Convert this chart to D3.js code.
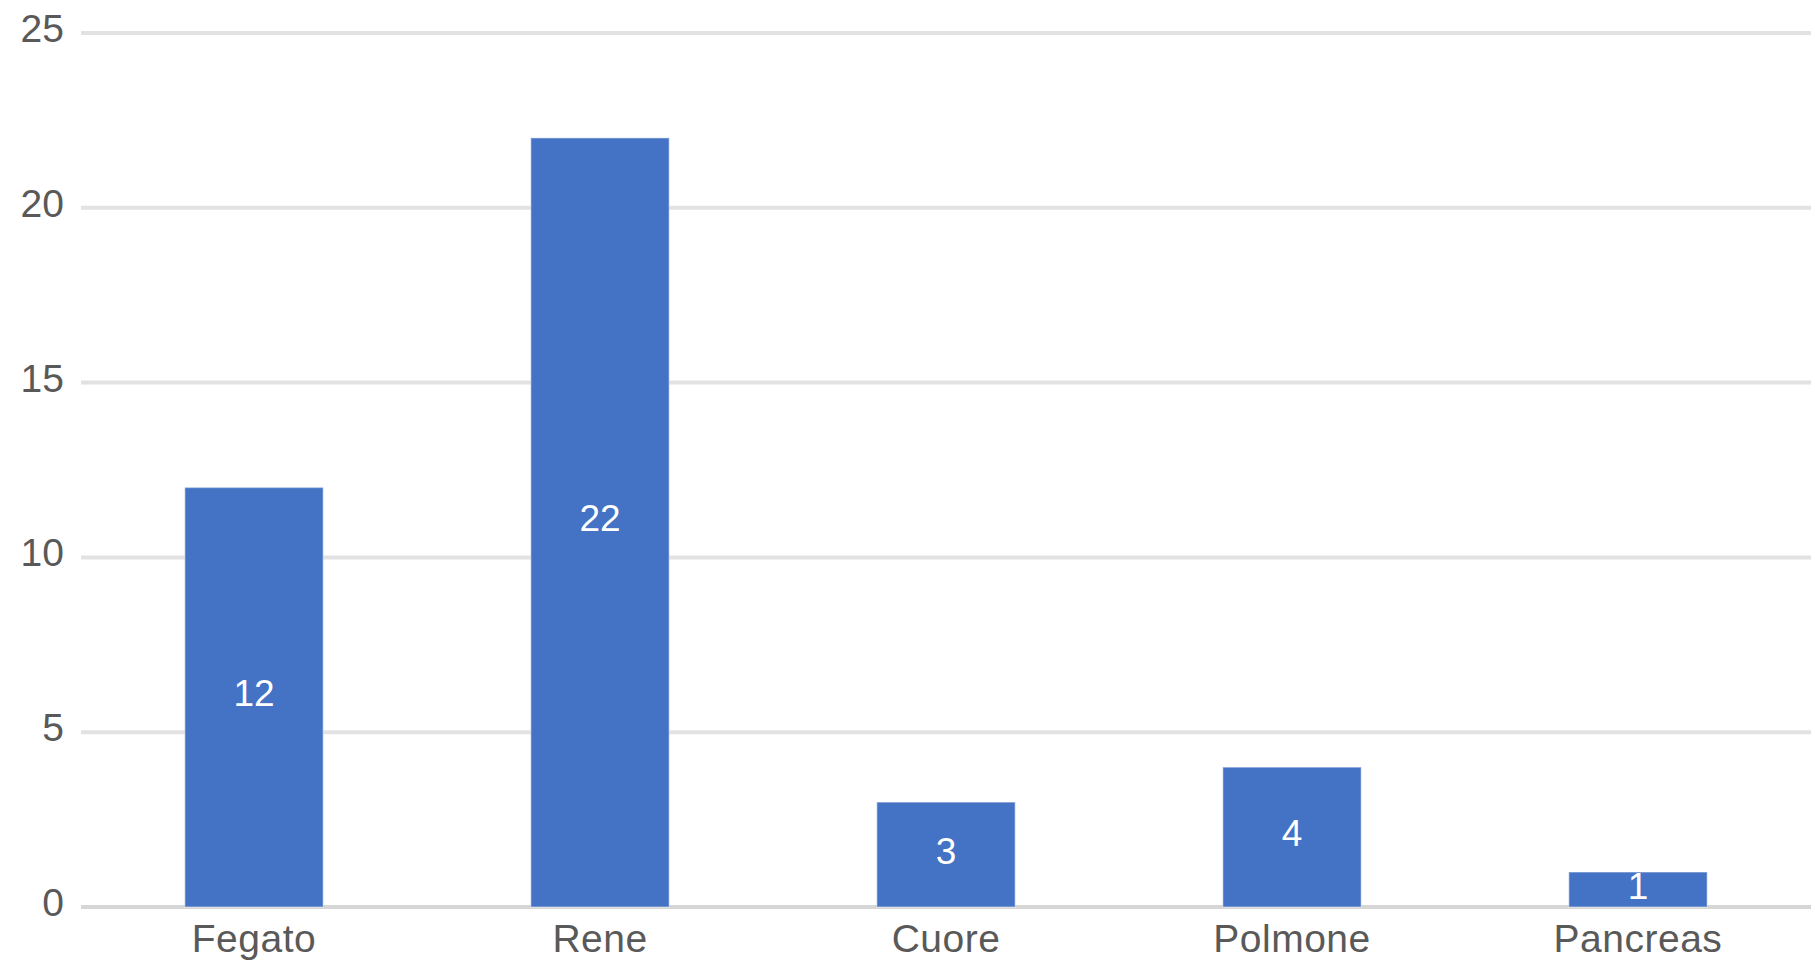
<!DOCTYPE html>
<html>
<head>
<meta charset="utf-8">
<script src="https://cdn.jsdelivr.net/npm/d3@7"></script>
<style>
  html, body { margin: 0; padding: 0; background: #fff; }
  svg { display: block; }
</style>
</head>
<body>
<svg id="chart"></svg>
<script>
const categories = ["Fegato", "Rene", "Cuore", "Polmone", "Pancreas"];
const values = [12, 22, 3, 4, 1];
const yTicks = [0, 5, 10, 15, 20, 25];

const width = 1815, height = 962;
const margin = { top: 33, right: 4, bottom: 55, left: 81 };

const svg = d3.select("#chart")
    .attr("width", width)
    .attr("height", height)
    .style("font-family", "'Liberation Sans', Arial, sans-serif");

const x = d3.scaleBand()
    .domain(categories)
    .range([margin.left, width - margin.right])
    .paddingInner(0.6)
    .paddingOuter(0.3);

const y = d3.scaleLinear()
    .domain([0, 25])
    .range([height - margin.bottom, margin.top]);

// gridlines
svg.append("g")
    .selectAll("line")
    .data(yTicks)
    .join("line")
    .attr("x1", margin.left)
    .attr("x2", width - margin.right)
    .attr("y1", d => y(d))
    .attr("y2", d => y(d))
    .attr("stroke", d => d === 0 ? "#d6d6d6" : "#e2e2e2")
    .attr("stroke-width", 4);

// y tick labels
svg.append("g")
    .selectAll("text")
    .data(yTicks)
    .join("text")
    .attr("x", 64)
    .attr("y", d => y(d) + 9)
    .attr("text-anchor", "end")
    .attr("fill", "#595959")
    .style("font-size", "39px")
    .text(d => d);

// bars
svg.append("g")
    .selectAll("rect")
    .data(values)
    .join("rect")
    .attr("x", (d, i) => x(categories[i]))
    .attr("y", d => y(d))
    .attr("width", x.bandwidth())
    .attr("height", d => y(0) - y(d))
    .attr("fill", "#4472C4")
    .attr("stroke", "rgba(255,255,255,0.35)")
    .attr("stroke-width", 1.5);

// value labels
svg.append("g")
    .selectAll("text")
    .data(values)
    .join("text")
    .attr("x", (d, i) => x(categories[i]) + x.bandwidth() / 2)
    .attr("y", d => y(d / 2) + 9)
    .attr("text-anchor", "middle")
    .attr("fill", "#ffffff")
    .style("font-size", "37px")
    .text(d => d);

// category labels
svg.append("g")
    .selectAll("text")
    .data(categories)
    .join("text")
    .attr("x", d => x(d) + x.bandwidth() / 2)
    .attr("y", 952)
    .attr("text-anchor", "middle")
    .attr("fill", "#595959")
    .style("font-size", "39px")
    .style("letter-spacing", "0.5px")
    .text(d => d);
</script>
</body>
</html>
